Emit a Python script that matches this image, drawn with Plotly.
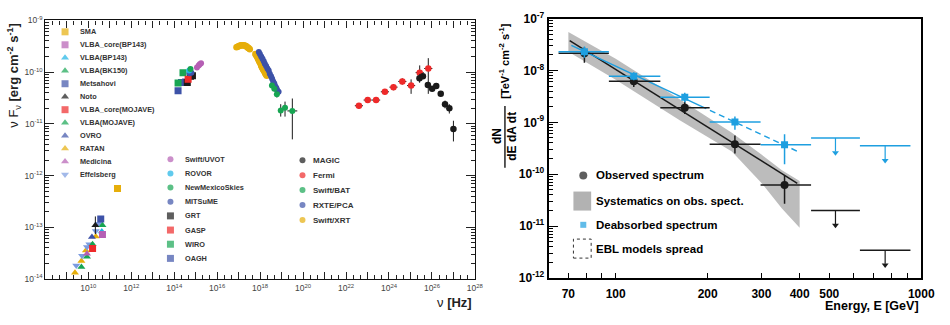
import plotly.graph_objects as go
import numpy as np

W, H = 950, 325

# ---------------- LEFT PANEL DATA (log10 nu [Hz], log10 nuFnu [erg cm^-2 s^-1]) ----------------
ratan_lx = [9.38, 9.68, 9.89, 10.14, 10.35]
ratan_ly = [-13.88, -13.65, -13.45, -13.35, -13.18]
effb_lx = [9.44, 9.71, 9.94, 10.05, 10.35, 10.48]
effb_ly = [-13.74, -13.55, -13.38, -13.33, -13.07, -12.93]
bk150_lx = [9.68, 9.94]
bk150_ly = [-13.77, -13.57]
mojave_lx = [10.20, 10.66]
mojave_ly = [-13.33, -12.96]
medicina_lx = [9.94]
medicina_ly = [-13.51]
mojcore_lx = [10.20]
mojcore_ly = [-13.41]
ovro_lx = [10.17]
ovro_ly = [-13.19]
noto_lx = [10.33]
noto_ly = [-12.96]
noto_ly_hi = [-12.79]
noto_ly_lo = [-13.13]
metsahovi_lx = [10.58]
metsahovi_ly = [-12.84]
bp143_lx = [10.63]
bp143_ly = [-13.08]
bp143core_lx = [10.66]
bp143core_ly = [-13.14]
sma_lx = [11.36]
sma_ly = [-12.25]

oagh_lx = [14.18, 14.34, 14.53]
oagh_ly = [-10.36, -10.20, -10.19]
wiro_lx = [14.18, 14.41]
wiro_ly = [-10.21, -10.01]
grt_lx = [14.61, 14.76, 14.85]
grt_ly = [-10.20, -10.08, -10.07]
gasp_lx = [14.65]
gasp_ly = [-10.14]
mitsume_lx = [14.71, 14.80]
mitsume_ly = [-10.02, -10.01]
nms_lx = [14.76]
nms_ly = [-9.94]
rovor_lx = [14.70]
rovor_ly = [-9.97]
uvot_lx = [15.06, 15.14, 15.19, 15.25]
uvot_ly = [-9.91, -9.87, -9.85, -9.83]

xrt_lx = [16.90, 16.95, 17.00, 17.04, 17.09, 17.13, 17.18, 17.22, 17.27, 17.31, 17.36, 17.40, 17.44, 17.47, 17.52,
          17.78, 17.81, 17.84, 17.87, 17.89, 17.92, 17.95, 17.97, 18.00, 18.03, 18.05, 18.07,
          18.09, 18.12, 18.14, 18.17, 18.20, 18.23, 18.25, 18.28, 18.31]
xrt_ly = [-9.52, -9.51, -9.50, -9.49, -9.485, -9.48, -9.48, -9.48, -9.485, -9.49, -9.50, -9.52, -9.53, -9.54, -9.56,
          -9.65, -9.67, -9.69, -9.71, -9.73, -9.755, -9.78, -9.80, -9.82, -9.845, -9.87, -9.89,
          -9.91, -9.93, -9.95, -9.97, -9.99, -10.01, -10.03, -10.05, -10.07]
pca_lx = [17.94, 17.99, 18.05, 18.11, 18.17, 18.22, 18.28, 18.34, 18.40,
          18.45, 18.51, 18.56, 18.61, 18.66, 18.70, 18.75, 18.79, 18.86]
pca_ly = [-9.61, -9.65, -9.70, -9.74, -9.79, -9.84, -9.88, -9.93, -9.97,
          -10.03, -10.08, -10.13, -10.18, -10.22, -10.27, -10.30, -10.34, -10.38]
bat_lx = [18.55, 18.66, 18.78, 18.96, 19.16, 19.50]
bat_ly = [-10.26, -10.32, -10.43, -10.74, -10.69, -10.75]
bat_ly_hi = [-10.22, -10.28, -10.38, -10.62, -10.57, -10.51]
bat_ly_lo = [-10.30, -10.37, -10.49, -10.86, -10.86, -11.30]
bat_lx_err = [0.0, 0.0, 0.0, 0.10, 0.10, 0.23]

fermi_lx = [22.60, 23.01, 23.40, 23.81, 24.21, 24.62, 25.03, 25.43, 25.83]
fermi_ly = [-10.65, -10.54, -10.54, -10.38, -10.29, -10.18, -10.26, -10.01, -9.93]
fermi_ly_hi = [-10.60, -10.49, -10.49, -10.33, -10.23, -10.12, -10.14, -9.87, -9.73]
fermi_ly_lo = [-10.71, -10.59, -10.59, -10.43, -10.35, -10.24, -10.42, -10.20, -10.42]
fermi_lx_err = 0.19

magic_lx = [25.42, 25.58, 25.81, 26.01, 26.20, 26.41, 26.61, 26.81, 27.00]
magic_ly = [-10.12, -10.08, -10.25, -10.32, -10.27, -10.42, -10.62, -10.70, -11.10]
magic_ly_hi = [-10.04, -10.04, -10.21, -10.29, -10.24, -10.39, -10.55, -10.62, -10.94]
magic_ly_lo = [-10.20, -10.12, -10.29, -10.36, -10.30, -10.46, -10.70, -10.80, -11.34]

# ---------------- RIGHT PANEL DATA (E [GeV], dN/dE [TeV^-1 cm^-2 s^-1]) ----------------
bin_lo = [65, 95, 140, 203, 298]
bin_hi = [95, 140, 203, 298, 436]
obs_E = [79, 114.6, 168.3, 245.6, 357]
obs_flux = [2.15e-8, 6.2e-9, 1.9e-9, 3.8e-10, 6.2e-11]
obs_hi = [2.8e-8, 7.9e-9, 2.55e-9, 5.6e-10, 9.5e-11]
obs_lo = [1.4e-8, 4.8e-9, 1.45e-9, 2.5e-10, 2.7e-11]
deab_flux = [2.3e-8, 7.7e-9, 3.05e-9, 1.01e-9, 3.7e-10]
deab_hi = [2.9e-8, 9.2e-9, 3.7e-9, 1.3e-9, 5.9e-10]
deab_lo = [1.75e-8, 6.45e-9, 2.45e-9, 7.2e-10, 1.55e-10]
ul_lo = [436, 630]
ul_hi = [630, 922]
ul_E = [524, 762]
deab_ul = [5.0e-10, 3.55e-10]
obs_ul = [2.0e-11, 3.45e-12]
obs_fit_E = [70.7, 393]
obs_fit_flux = [3.74e-8, 6.7e-11]
deab_fit_solid_E = [71.6, 190]
deab_fit_solid_flux = [3.03e-8, 2.05e-9]
deab_fit_dash_E = [190, 395]
deab_fit_dash_flux = [2.05e-9, 2.73e-10]
band_E = [70, 100, 162, 240, 300, 350, 400]
band_hi = [5.5e-8, 1.67e-8, 2.77e-9, 6.3e-10, 2.4e-10, 1.2e-10, 7.4e-11]
band_lo = [2.3e-8, 6.6e-9, 1.1e-9, 2.73e-10, 6.8e-11, 2.2e-11, 9.3e-12]

# ---------------- colours ----------------
GOLD = "#e6ae0a"
PURPLE = "#b55fb4"
CYAN = "#1cb3e6"
GREEN = "#17a552"
BLUE = "#3d52a8"
LBLUE = "#7b9be0"
RED = "#ee2a2a"
BLACK = "#1a1a1a"
SKY = "#1e9fe0"

FONT = "Liberation Sans"

fig = go.Figure()


def p10(a):
    return [10 ** v for v in a]


def add_left(lx, ly, color, symbol, size=7, err=None, errx=None):
    tr = dict(x=p10(lx), y=p10(ly), mode="markers", xaxis="x", yaxis="y",
              marker=dict(color=color, symbol=symbol, size=size, line=dict(width=0)),
              showlegend=False, hoverinfo="skip")
    if err is not None:
        hi, lo = err
        y = p10(ly)
        tr["error_y"] = dict(type="data", symmetric=False,
                             array=[10 ** h - v for h, v in zip(hi, y)],
                             arrayminus=[v - 10 ** l for l, v in zip(lo, y)],
                             color=BLACK, thickness=1, width=0)
    if errx is not None:
        x = p10(lx)
        ex = errx if isinstance(errx, list) else [errx] * len(lx)
        tr["error_x"] = dict(type="data", symmetric=False,
                             array=[v * (10 ** e - 1) for e, v in zip(ex, x)],
                             arrayminus=[v * (1 - 10 ** (-e)) for e, v in zip(ex, x)],
                             color=BLACK, thickness=1, width=0)
    fig.add_trace(go.Scatter(**tr))


# radio
add_left(ratan_lx, ratan_ly, GOLD, "triangle-up")
add_left(effb_lx, effb_ly, LBLUE, "triangle-down")
add_left(bk150_lx, bk150_ly, GREEN, "triangle-up")
add_left(medicina_lx, medicina_ly, PURPLE, "triangle-up")
add_left(ovro_lx, ovro_ly, BLUE, "triangle-up")
add_left(mojave_lx, mojave_ly, GREEN, "triangle-up")
add_left(mojcore_lx, mojcore_ly, RED, "square")
add_left(noto_lx, noto_ly, BLACK, "triangle-up", err=(noto_ly_hi, noto_ly_lo))
add_left(metsahovi_lx, metsahovi_ly, BLUE, "square")
add_left(bp143_lx, bp143_ly, CYAN, "triangle-up")
add_left(bp143core_lx, bp143core_ly, PURPLE, "square")
add_left(sma_lx, sma_ly, GOLD, "square")
# optical
add_left(oagh_lx, oagh_ly, BLUE, "square")
add_left(wiro_lx, wiro_ly, GREEN, "square")
add_left(grt_lx, grt_ly, BLACK, "square")
add_left(gasp_lx, gasp_ly, RED, "square")
add_left(mitsume_lx, mitsume_ly, BLUE, "circle", 6)
add_left(rovor_lx, rovor_ly, CYAN, "circle", 6)
add_left(nms_lx, nms_ly, GREEN, "circle", 6)
add_left(uvot_lx, uvot_ly, PURPLE, "circle", 6)
# X-ray
add_left(xrt_lx, xrt_ly, GOLD, "circle", 6.5)
add_left(pca_lx, pca_ly, BLUE, "circle", 6)
add_left(bat_lx, bat_ly, GREEN, "circle", 6, err=(bat_ly_hi, bat_ly_lo), errx=bat_lx_err)
# gamma
add_left(fermi_lx, fermi_ly, RED, "circle", 6.5, err=(fermi_ly_hi, fermi_ly_lo), errx=fermi_lx_err)
add_left(magic_lx, magic_ly, BLACK, "circle", 6.5, err=(magic_ly_hi, magic_ly_lo))

# ---------------- RIGHT PANEL TRACES ----------------
fig.add_trace(go.Scatter(x=band_E + band_E[::-1], y=band_hi + band_lo[::-1], fill="toself",
                         fillcolor="rgba(165,165,165,0.75)", line=dict(width=0), mode="lines",
                         xaxis="x2", yaxis="y2", showlegend=False, hoverinfo="skip"))
fig.add_trace(go.Scatter(x=obs_fit_E, y=obs_fit_flux, mode="lines", line=dict(color=BLACK, width=1.5),
                         xaxis="x2", yaxis="y2", showlegend=False, hoverinfo="skip"))
fig.add_trace(go.Scatter(x=deab_fit_solid_E, y=deab_fit_solid_flux, mode="lines",
                         line=dict(color=SKY, width=1.5), xaxis="x2", yaxis="y2",
                         showlegend=False, hoverinfo="skip"))
fig.add_trace(go.Scatter(x=deab_fit_dash_E, y=deab_fit_dash_flux, mode="lines",
                         line=dict(color=SKY, width=1.5, dash="6px,4px"), xaxis="x2", yaxis="y2",
                         showlegend=False, hoverinfo="skip"))


def add_right(E, f, hi, lo, color, symbol, size):
    fig.add_trace(go.Scatter(
        x=E, y=f, mode="markers", xaxis="x2", yaxis="y2", showlegend=False, hoverinfo="skip",
        marker=dict(color=color, symbol=symbol, size=size, line=dict(width=0)),
        error_x=dict(type="data", symmetric=False,
                     array=[h - e for h, e in zip(bin_hi, E)],
                     arrayminus=[e - l for l, e in zip(bin_lo, E)],
                     color=color, thickness=1.5, width=0),
        error_y=dict(type="data", symmetric=False,
                     array=[h - v for h, v in zip(hi, f)],
                     arrayminus=[v - l for l, v in zip(lo, f)],
                     color=color, thickness=1.5, width=0)))


add_right(obs_E, obs_flux, obs_hi, obs_lo, BLACK, "circle", 8)
add_right(obs_E, deab_flux, deab_hi, deab_lo, SKY, "square", 7)


def add_ul(vals, color):
    fig.add_trace(go.Scatter(
        x=ul_E, y=vals, mode="markers", marker=dict(size=1, color=color, opacity=0),
        xaxis="x2", yaxis="y2", showlegend=False, hoverinfo="skip",
        error_x=dict(type="data", symmetric=False,
                     array=[h - e for h, e in zip(ul_hi, ul_E)],
                     arrayminus=[e - l for l, e in zip(ul_lo, ul_E)],
                     color=color, thickness=1.5, width=0)))
    xs, ys = [], []
    for e, v in zip(ul_E, vals):
        xs += [e, e, None]
        ys += [v, v * 0.55, None]
    fig.add_trace(go.Scatter(x=xs, y=ys, mode="lines", line=dict(color=color, width=1.2),
                             xaxis="x2", yaxis="y2", showlegend=False, hoverinfo="skip"))
    fig.add_trace(go.Scatter(x=ul_E, y=[v * 0.52 for v in vals], mode="markers",
                             marker=dict(symbol="triangle-down", size=6, color=color),
                             xaxis="x2", yaxis="y2", showlegend=False, hoverinfo="skip"))


add_ul(deab_ul, SKY)
add_ul(obs_ul, BLACK)

# ---------------- LEGENDS (layout, pixel positions) ----------------
leg1 = [("SMA", GOLD, "square"), ("VLBA_core(BP143)", PURPLE, "square"),
        ("VLBA(BP143)", CYAN, "triangle-up"), ("VLBA(BK150)", GREEN, "triangle-up"),
        ("Metsahovi", BLUE, "square"), ("Noto", BLACK, "triangle-up"),
        ("VLBA_core(MOJAVE)", RED, "square"), ("VLBA(MOJAVE)", GREEN, "triangle-up"),
        ("OVRO", BLUE, "triangle-up"), ("RATAN", GOLD, "triangle-up"),
        ("Medicina", PURPLE, "triangle-up"), ("Effelsberg", LBLUE, "triangle-down")]
leg2 = [("Swift/UVOT", PURPLE, "circle"), ("ROVOR", CYAN, "circle"),
        ("NewMexicoSkies", GREEN, "circle"), ("MITSuME", BLUE, "circle"),
        ("GRT", BLACK, "square"), ("GASP", RED, "square"),
        ("WIRO", GREEN, "square"), ("OAGH", BLUE, "square")]
leg3 = [("MAGIC", BLACK, "circle"), ("Fermi", RED, "circle"),
        ("Swift/BAT", GREEN, "circle"), ("RXTE/PCA", BLUE, "circle"),
        ("Swift/XRT", GOLD, "circle")]

annotations = []
lx_, ly_, lc_, ls_, lsz_ = [], [], [], [], []


def legend_col(items, x0, y0, dy, tx, fs):
    for i, (name, c, s) in enumerate(items):
        y = y0 + i * dy
        lx_.append(x0); ly_.append(y); lc_.append(c); ls_.append(s)
        lsz_.append(6 if s == "circle" else 7)
        annotations.append(dict(x=tx / W, y=1 - y / H, xref="paper", yref="paper", text=name,
                                showarrow=False, xanchor="left", yanchor="middle",
                                font=dict(family=FONT, size=fs, color="#333333", weight="bold")))


legend_col(leg1, 66, 24, 13.65, 79, 7.3)
legend_col(leg2, 173, 158, 14.9, 186, 7.3)
legend_col(leg3, 307, 159, 15.75, 316, 8)

# right legend
lx_.append(592); ly_.append(175); lc_.append(BLACK); ls_.append("circle"); lsz_.append(8)
lx_.append(592); ly_.append(227); lc_.append(SKY); ls_.append("square"); lsz_.append(6)
for txt, y in [("Observed spectrum", 175), ("Systematics on obs. spect.", 202),
               ("Deabsorbed spectrum", 227), ("EBL models spread", 252)]:
    annotations.append(dict(x=603 / W, y=1 - y / H, xref="paper", yref="paper", text=txt,
                            showarrow=False, xanchor="left", yanchor="middle",
                            font=dict(family=FONT, size=11.5, color="black", weight="bold")))

fig.add_trace(go.Scatter(x=lx_, y=ly_, mode="markers", xaxis="x3", yaxis="y3",
                         marker=dict(color=lc_, symbol=ls_, size=lsz_, line=dict(width=0)),
                         showlegend=False, hoverinfo="skip"))

shapes = [
    dict(type="rect", xref="paper", yref="paper", x0=582 / W, x1=600 / W, y0=1 - 212 / H, y1=1 - 192 / H,
         fillcolor="rgba(165,165,165,0.85)", line=dict(width=0)),
    dict(type="rect", xref="paper", yref="paper", x0=582 / W, x1=600 / W, y0=1 - 262 / H, y1=1 - 242 / H,
         fillcolor="rgba(0,0,0,0)", line=dict(width=1, color="#333", dash="dot")),
    # fraction bar of the right y title
    dict(type="line", xref="paper", yref="paper", x0=512.5 / W, x1=512.5 / W, y0=1 - 167 / H, y1=1 - 102 / H,
         line=dict(width=1.3, color="black")),
]

# axis titles
annotations += [
    dict(x=14 / W, y=1 - 12 / H, xref="paper", yref="paper", textangle=-90,
         text="ν F<sub>ν</sub> <b>[erg cm<sup>-2</sup> s<sup>-1</sup>]</b>",
         showarrow=False, xanchor="center", yanchor="top", font=dict(family=FONT, size=13, color="#222")),
    dict(x=481 / W, y=1 - 309 / H, xref="paper", yref="paper",
         text="ν <b>[Hz]</b>", showarrow=False, xanchor="right", yanchor="middle",
         font=dict(family=FONT, size=13, color="#222")),
    dict(x=935 / W, y=1 - 312 / H, xref="paper", yref="paper",
         text="Energy, E [GeV]", showarrow=False, xanchor="right", yanchor="middle",
         font=dict(family=FONT, size=12.5, color="black", weight="bold")),
    dict(x=505 / W, y=1 - 134 / H, xref="paper", yref="paper", textangle=-90,
         text="dN", showarrow=False, xanchor="center", yanchor="middle",
         font=dict(family=FONT, size=12, color="black", weight="bold")),
    dict(x=520 / W, y=1 - 134 / H, xref="paper", yref="paper", textangle=-90,
         text="dE dA dt", showarrow=False, xanchor="center", yanchor="middle",
         font=dict(family=FONT, size=12, color="black", weight="bold")),
    dict(x=512 / W, y=1 - 12 / H, xref="paper", yref="paper", textangle=-90,
         text="[TeV<sup>-1</sup> cm<sup>-2</sup> s<sup>-1</sup>]", showarrow=False,
         xanchor="center", yanchor="top",
         font=dict(family=FONT, size=11, color="black", weight="bold")),
]

# ---------------- AXES ----------------
lx_ticks = [10.0 ** k for k in range(8, 29)]
lx_text = ["10<sup>%d</sup>" % k if (k % 2 == 0 and k >= 10) else "" for k in range(8, 29)]
lx_minor = [10.0 ** (k + f) for k in range(8, 28) for f in (1 / 3, 2 / 3)]
ly_ticks = [10.0 ** k for k in range(-14, -8)]
ly_text = ["10<sup>%d</sup>" % k for k in range(-14, -8)]
y_minor = lambda a, b: [m * 10.0 ** k for k in range(a, b) for m in range(2, 10)]

rx_ticks = [70, 80, 90, 100, 200, 300, 400, 500, 600, 700, 800, 900, 1000]
rx_text = ["70", "", "", "100", "200", "300", "400", "500", "", "", "", "", "1000"]
ry_ticks = [10.0 ** k for k in range(-12, -6)]
ry_text = ["10<sup>%d</sup>" % k for k in range(-12, -6)]

L_DOM_X = [46 / W, 482 / W]
L_DOM_Y = [1 - 284 / H, 1 - 12 / H]
R_DOM_X = [557 / W, 935 / W]
R_DOM_Y = [1 - 283 / H, 1 - 10 / H]

lfont = dict(family=FONT, size=8.5, color="#444")
rfont = dict(family=FONT, size=12, color="black", weight="bold")

fig.update_layout(
    width=W, height=H, margin=dict(l=0, r=0, t=0, b=0),
    paper_bgcolor="white", plot_bgcolor="rgba(0,0,0,0)",
    showlegend=False,
    xaxis=dict(type="log", domain=L_DOM_X, range=[8, 28], anchor="y",
               tickvals=lx_ticks, ticktext=lx_text, ticks="inside", ticklen=7, tickcolor="#222",
               minor=dict(tickvals=lx_minor, ticks="inside", ticklen=4, tickcolor="#222"),
               showline=True, linecolor="#111", linewidth=1.2, mirror="ticks",
               showgrid=False, zeroline=False, tickfont=lfont, ticklabelstandoff=1),
    yaxis=dict(type="log", domain=L_DOM_Y, range=[-14, -9], anchor="x",
               tickvals=ly_ticks, ticktext=ly_text, ticks="inside", ticklen=9, tickcolor="#222",
               minor=dict(tickvals=y_minor(-14, -9), ticks="inside", ticklen=4, tickcolor="#222"),
               showline=True, linecolor="#111", linewidth=1.2, mirror="ticks",
               showgrid=False, zeroline=False, tickfont=lfont),
    xaxis2=dict(type="log", domain=R_DOM_X, range=[np.log10(60.4), 3], anchor="y2",
                tickvals=rx_ticks, ticktext=rx_text, ticks="inside", ticklen=5, tickcolor="black",
                tickwidth=1.3,
                showline=True, linecolor="black", linewidth=2.2, mirror=True,
                showgrid=False, zeroline=False, tickfont=rfont, ticklabelstandoff=3),
    yaxis2=dict(type="log", domain=R_DOM_Y, range=[-12, -7], anchor="x2",
                tickvals=ry_ticks, ticktext=ry_text, ticks="inside", ticklen=9, tickcolor="black",
                tickwidth=1.3,
                minor=dict(tickvals=y_minor(-12, -7), ticks="inside", ticklen=4, tickcolor="black"),
                showline=True, linecolor="black", linewidth=2.2, mirror=True,
                showgrid=False, zeroline=False, tickfont=rfont),
    xaxis3=dict(domain=[0, 1], range=[0, W], visible=False, anchor="y3", fixedrange=True),
    yaxis3=dict(domain=[0, 1], range=[H, 0], visible=False, anchor="x3", fixedrange=True),
    annotations=annotations,
    shapes=shapes,
)

fig.write_html("out.html", config={"displayModeBar": False},
               post_script="document.body.style.margin='0px';document.body.style.overflow='hidden';")
